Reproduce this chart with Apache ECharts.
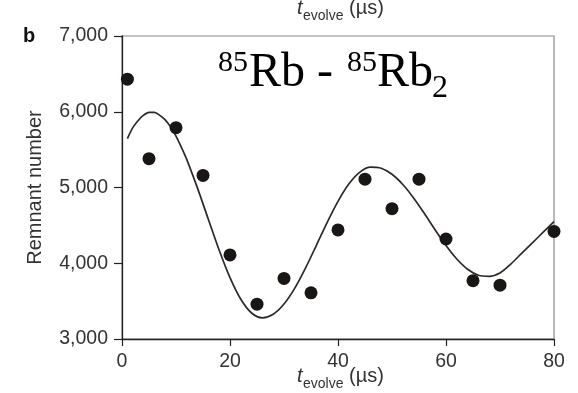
<!DOCTYPE html>
<html>
<head>
<meta charset="utf-8">
<script src="https://cdn.jsdelivr.net/npm/echarts@6/dist/echarts.min.js"></script>
<style>
html,body{margin:0;padding:0;background:#fff;}
#chart{width:578px;height:393px;}
</style>
</head>
<body>
<div id="chart"></div>
<script>
// Measured data points (t_evolve in µs, remnant number)
var times   = [1, 5, 10, 15, 20, 25, 30, 35, 40, 45, 50, 55, 60, 65, 70, 80];
var remnant = [6430, 5380, 5790, 5160, 4110, 3460, 3800, 3610, 4440, 5110, 4720, 5110, 4320, 3770, 3710, 4420];

// Fitted curve
var fitTimes  = [1, 2, 3, 4, 5, 6, 7, 8, 9, 10, 11, 12, 14, 16, 18, 20, 22, 24, 26, 28, 30, 32, 34, 36, 38, 40, 42, 44, 46, 48, 50, 52, 54, 56, 58, 60, 62, 64, 66, 68, 70, 72, 74, 76, 78, 80];
var fitValues = [5645, 5790, 5885, 5955, 5993, 5992, 5952, 5893, 5800, 5679, 5530, 5368, 4988, 4578, 4172, 3810, 3525, 3343, 3280, 3327, 3461, 3671, 3939, 4237, 4540, 4817, 5045, 5200, 5269, 5254, 5175, 5040, 4862, 4656, 4440, 4234, 4056, 3921, 3842, 3828, 3872, 3990, 4130, 4270, 4410, 4550];

var xTicks = [0, 20, 40, 60, 80];
var yTicks = [3000, 4000, 5000, 6000, 7000];

var yAxisName = 'Remnant number';
var panelLabel = 'b';

var chart = echarts.init(document.getElementById('chart'), null, {renderer: 'canvas'});

var pointData = times.map(function (t, i) { return [t, remnant[i]]; });
var fitData = fitTimes.map(function (t, i) { return [t, fitValues[i]]; });

var sans = 'Liberation Sans, Arial, Helvetica, sans-serif';
var serif = 'Liberation Serif, Times New Roman, serif';

function xNameTexts(dy) {
  return [
    {type: 'text', x: 297, y: 366 + dy, silent: true, style: {text: 't', font: 'italic 20px ' + sans, fill: '#333', verticalAlign: 'top'}},
    {type: 'text', x: 303, y: 376.8 + dy, silent: true, style: {text: 'evolve', font: '14px ' + sans, fill: '#333', verticalAlign: 'top'}},
    {type: 'text', x: 343.5, y: 366 + dy, silent: true, style: {text: ' (\u00b5s)', font: '20px ' + sans, fill: '#333', verticalAlign: 'top'}}
  ];
}

var option = {
  animation: false,
  backgroundColor: '#fff',
  grid: {left: 122, right: 24, top: 36, bottom: 54, show: true, borderColor: '#8a8a8a', borderWidth: 1.2, backgroundColor: 'transparent'},
  xAxis: {
    type: 'value', min: xTicks[0], max: xTicks[xTicks.length - 1], interval: 20,
    axisLine: {show: true, lineStyle: {color: '#222', width: 1.3}},
    axisTick: {show: true, length: 7, lineStyle: {color: '#222', width: 1.2}},
    axisLabel: {margin: 13, fontSize: 19.5, fontFamily: sans, color: '#333'},
    splitLine: {show: false}
  },
  yAxis: {
    type: 'value', min: yTicks[0], max: yTicks[yTicks.length - 1], interval: 1000,
    name: yAxisName, nameLocation: 'middle', nameGap: 77, nameRotate: 90,
    nameTextStyle: {fontSize: 20, fontFamily: sans, color: '#333'},
    axisLine: {show: true, lineStyle: {color: '#222', width: 1.3}},
    axisTick: {show: true, length: 8, lineStyle: {color: '#222', width: 1.2}},
    axisLabel: {margin: 14, fontSize: 19.5, fontFamily: sans, color: '#333',
      formatter: function (v) { return v.toLocaleString('en-US'); }},
    splitLine: {show: false}
  },
  series: [
    {
      type: 'line', data: fitData, smooth: 0.3, symbol: 'none',
      lineStyle: {color: '#2a2a2a', width: 1.7}, z: 2
    },
    {
      type: 'scatter', data: pointData, symbol: 'circle', symbolSize: 13,
      itemStyle: {color: '#1b1616', opacity: 1}, z: 3
    }
  ],
  graphic: [
    {type: 'text', x: 23, y: 26, style: {text: panelLabel, font: 'bold 20px ' + sans, fill: '#111', verticalAlign: 'top'}},
    {type: 'text', x: 218, y: 48, style: {text: '85', font: '30px ' + serif, fill: '#000', verticalAlign: 'top'}},
    {type: 'text', x: 249, y: 49, style: {text: 'Rb - ', font: '48px ' + serif, fill: '#000', verticalAlign: 'top'}},
    {type: 'text', x: 347, y: 48, style: {text: '85', font: '30px ' + serif, fill: '#000', verticalAlign: 'top'}},
    {type: 'text', x: 377, y: 49, style: {text: 'Rb', font: '48px ' + serif, fill: '#000', verticalAlign: 'top'}},
    {type: 'text', x: 432, y: 73, style: {text: '2', font: '32px ' + serif, fill: '#000', verticalAlign: 'top'}}
  ].concat(xNameTexts(0)).concat(xNameTexts(-368))
};
chart.setOption(option);
</script>
</body>
</html>
